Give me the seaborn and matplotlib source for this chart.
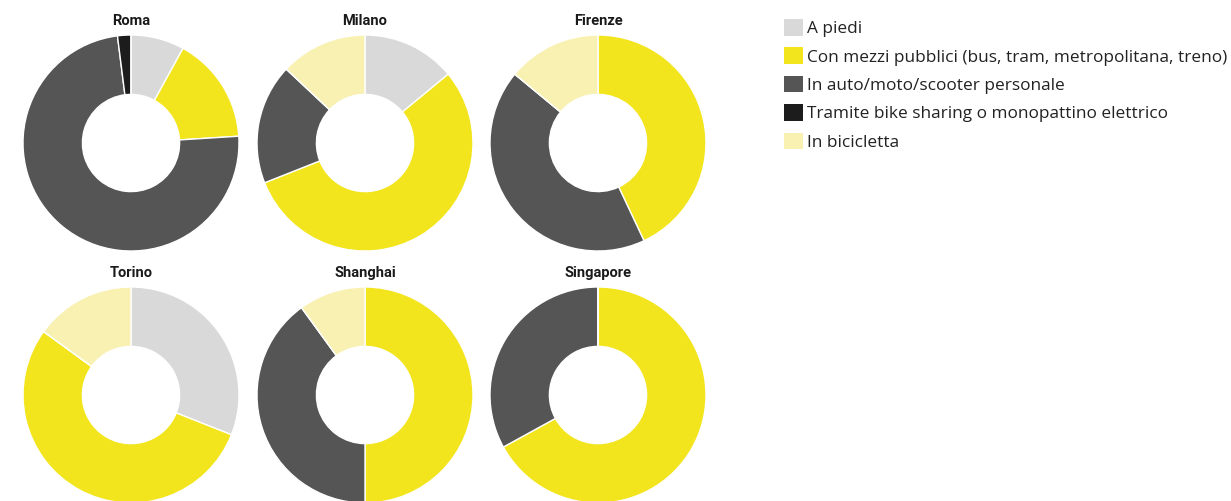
import matplotlib
matplotlib.use("Agg")
import matplotlib.pyplot as plt
from matplotlib.patches import Patch
import seaborn as sns

sns.set_theme(style="white")
plt.rcParams["font.family"] = ["Open Sans", "DejaVu Sans"]

# Modal split per city (% of trips)
categories = [
    "A piedi",
    "Con mezzi pubblici (bus, tram, metropolitana, treno)",
    "In auto/moto/scooter personale",
    "Tramite bike sharing o monopattino elettrico",
    "In bicicletta",
]
cities = ["Roma", "Milano", "Firenze", "Torino", "Shanghai", "Singapore"]
roma = [8, 16, 74, 2, 0]
milano = [14, 55, 18, 0, 13]
firenze = [0, 43, 43, 0, 14]
torino = [31, 54, 0, 0, 15]
shanghai = [0, 50, 40, 0, 10]
singapore = [0, 67, 33, 0, 0]
values = [roma, milano, firenze, torino, shanghai, singapore]

palette = sns.color_palette(["#d9d9d9", "#f2e51d", "#555555", "#1c1c1c", "#f8f1b2"])

W, H = 1231, 501
fig = plt.figure(figsize=(W / 100, H / 100), dpi=100)

centers_x = [131, 365, 598]
centers_y = [143, 395]
radius_px = 108

for i, (city, vals) in enumerate(zip(cities, values)):
    cx = centers_x[i % 3]
    cy = centers_y[i // 3]
    ax = fig.add_axes([(cx - radius_px) / W, 1 - (cy + radius_px) / H,
                       2 * radius_px / W, 2 * radius_px / H])
    ax.pie(vals, colors=palette, startangle=90, counterclock=False, radius=1,
           wedgeprops=dict(width=0.55, edgecolor="white", linewidth=1))
    ax.set_xlim(-1, 1)
    ax.set_ylim(-1, 1)
    ax.set_aspect("equal")
    ax.axis("off")
    fig.text(cx / W, 1 - (cy - radius_px - 14) / H, city, ha="center", va="center",
             fontsize=10.5, fontweight="bold", color="#1a1a1a", family=["Roboto", "DejaVu Sans"])

handles = [Patch(facecolor=c, edgecolor="none") for c in palette]
fig.legend(handles, categories, loc="upper left", bbox_to_anchor=(784 / W, 1 - 19 / H),
           frameon=False, fontsize=12.4, handlelength=1.1, handleheight=1.1,
           handletextpad=0.23, labelspacing=0.6, borderaxespad=0, borderpad=0,
           labelcolor="#222222")

fig.savefig("out.png", dpi=100, facecolor="white")
